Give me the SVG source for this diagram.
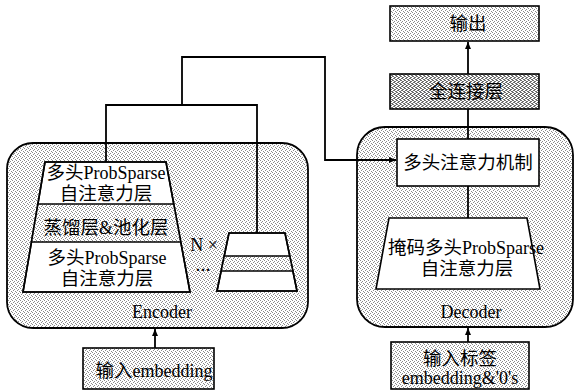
<svg xmlns="http://www.w3.org/2000/svg" width="575" height="391" viewBox="0 0 575 391">
  <defs>
    <pattern id="dotLight" width="4" height="4" patternUnits="userSpaceOnUse">
      <rect width="4" height="4" fill="#ffffff"/>
      <rect x="0" y="0" width="1" height="1" fill="#8a8a8a"/>
      <rect x="2" y="1" width="1" height="1" fill="#8a8a8a"/>
      <rect x="1" y="2" width="1" height="1" fill="#8a8a8a"/>
      <rect x="3" y="3" width="1" height="1" fill="#8a8a8a"/>
    </pattern>
    <pattern id="dotDark" width="4" height="4" patternUnits="userSpaceOnUse">
      <rect width="4" height="4" fill="#ffffff"/>
      <rect x="0" y="0" width="2" height="1" fill="#6e6e6e"/>
      <rect x="2" y="1" width="2" height="1" fill="#6e6e6e"/>
      <rect x="1" y="2" width="2" height="1" fill="#6e6e6e"/>
      <rect x="3" y="3" width="1" height="1" fill="#6e6e6e"/>
      <rect x="0" y="3" width="1" height="1" fill="#6e6e6e"/>
    </pattern>
    <marker id="arrow" markerWidth="8" markerHeight="8" refX="7" refY="4" orient="auto" markerUnits="userSpaceOnUse">
      <path d="M0,1 L7,4 L0,7 Z" fill="#000"/>
    </marker>
  </defs>
  <style>
    .frame { fill: url(#dotLight); stroke: #000; stroke-width: 1.8; }
    .box { stroke: #000; stroke-width: 1.6; }
    .white { fill: #fff; }
    .light { fill: url(#dotLight); }
    .dark { fill: url(#dotDark); }
    .wire { fill: none; stroke: #000; stroke-width: 1.8; }
    text { font-family: "Liberation Serif", "Noto Sans CJK SC", serif; font-size: 18px; fill: #000; text-anchor: middle; }
    .c { font-size: 18.5px; }
  </style>

  <!-- encoder container -->
  <g id="encoder">
    <rect class="frame" x="7" y="143" width="301" height="185" rx="26"/>
    <text x="162" y="318">Encoder</text>
  </g>

  <!-- decoder container -->
  <g id="decoder">
    <rect class="frame" x="357" y="127" width="216" height="200" rx="28"/>
    <text x="471" y="318">Decoder</text>
  </g>

  <!-- encoder layer stack -->
  <g id="encoder-stack">
    <polygon class="box white" points="45,162 166,162 190,292 23,292"/>
    <polygon class="light" points="37.9,204 173.8,204 180.8,242 31.5,242"/>
    <polygon class="box" fill="none" points="45,162 166,162 190,292 23,292"/>
    <line class="box" x1="37.9" y1="204" x2="173.8" y2="204"/>
    <line class="box" x1="31.5" y1="242" x2="180.8" y2="242"/>
    <text x="106" y="179"><tspan class="c">多头</tspan>ProbSparse</text>
    <text x="106" y="200" class="c">自注意力层</text>
    <text x="106" y="234"><tspan class="c">蒸馏层</tspan>&amp;<tspan class="c">池化层</tspan></text>
    <text x="107" y="264"><tspan class="c">多头</tspan>ProbSparse</text>
    <text x="107" y="285" class="c">自注意力层</text>
  </g>

  <!-- repeated stack (N times) -->
  <g id="encoder-stack-n">
    <polygon class="box white" points="229,233 285,233 297,291 217,291"/>
    <polygon class="light" points="224.2,256 289.8,256 292.9,271 221.1,271"/>
    <polygon class="box" fill="none" points="229,233 285,233 297,291 217,291"/>
    <line class="box" x1="224.2" y1="256" x2="289.8" y2="256"/>
    <line class="box" x1="221.1" y1="271" x2="292.9" y2="271"/>
    <text x="204" y="251">N ×</text>
    <text x="203" y="271" style="font-size:15px;font-weight:bold">…</text>
  </g>

  <!-- decoder masked attention -->
  <g id="masked-attention">
    <polygon class="box white" points="389,218 527,218 540,289 376,289"/>
    <text x="466" y="254"><tspan class="c">掩码多头</tspan>ProbSparse</text>
    <text x="467" y="275" class="c">自注意力层</text>
  </g>

  <g id="cross-attention">
    <rect class="box white" x="397" y="139" width="142" height="47"/>
    <text x="468" y="169" class="c">多头注意力机制</text>
  </g>

  <g id="fc-layer">
    <rect class="box dark" x="390" y="74" width="149" height="35"/>
    <text x="466" y="98" class="c">全连接层</text>
  </g>

  <g id="output">
    <rect class="box light" x="390" y="6" width="149" height="35"/>
    <text x="468" y="30" class="c">输出</text>
  </g>

  <g id="encoder-input">
    <rect class="box light" x="83" y="348" width="131" height="41"/>
    <text x="154" y="377"><tspan class="c">输入</tspan>embedding</text>
  </g>

  <g id="decoder-input">
    <rect class="box light" x="391" y="342" width="138" height="47"/>
    <text x="460" y="365" class="c">输入标签</text>
    <text x="460" y="384">embedding&amp;'0's</text>
  </g>

  <!-- connectors -->
  <g id="connectors">
    <path class="wire" d="M106,162 V105 H257 V233"/>
    <path class="wire" d="M182,105 V57 H325 V160 H396" marker-end="url(#arrow)"/>
    <line class="wire" x1="468" y1="139" x2="468" y2="109"/>
    <line class="wire" x1="468" y1="74" x2="468" y2="42" marker-end="url(#arrow)"/>
    <line class="wire" x1="468" y1="186" x2="468" y2="218"/>
    <line class="wire" x1="155" y1="348" x2="155" y2="329" marker-end="url(#arrow)"/>
    <line class="wire" x1="468" y1="342" x2="468" y2="328" marker-end="url(#arrow)"/>
  </g>
</svg>
